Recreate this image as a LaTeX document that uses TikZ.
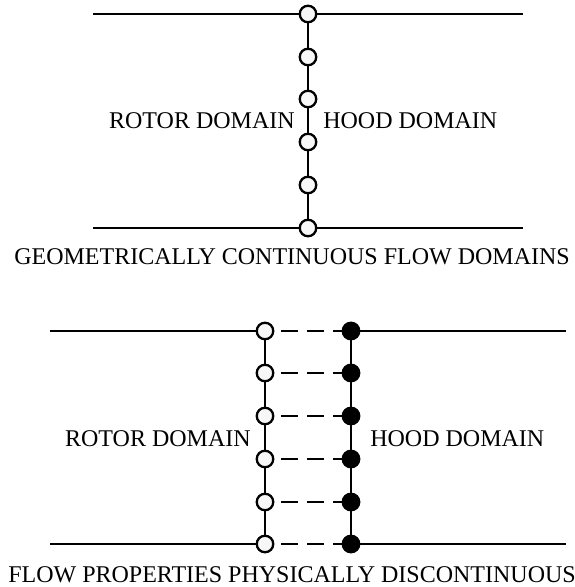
\documentclass[tikz,border=0pt]{standalone}
\usepackage{fontspec}
\setmainfont{Liberation Serif}
\usepackage{tikz}
\usetikzlibrary{positioning}
\tikzset{
  x=1pt, y=-1pt,
  every path/.style={line width=2.6pt},
  open/.style={circle, draw, line width=2.3pt, fill=gray!6, minimum size=16.5pt, inner sep=0pt},
  full/.style={circle, draw, line width=2.3pt, fill=black, minimum size=16.5pt, inner sep=0pt},
  gap/.style={dash pattern=on 17pt off 9pt, dash phase=-7pt},
  lbl/.style={inner sep=0pt, font=\fontsize{24}{28}\selectfont},
}

\begin{document}
\begin{tikzpicture}
      \useasboundingbox (0,0) rectangle (574,587);

      % continuous interface
      \coordinate (tl) at (93,14);  \coordinate (tr) at (523,14);
      \coordinate (bl) at (93,228); \coordinate (br) at (523,228);
      \node[open] (a1) at (308,14)  {};
      \node[open] (a2) at (308,57)  {};
      \node[open] (a3) at (308,99)  {};
      \node[open] (a4) at (308,142) {};
      \node[open] (a5) at (308,185) {};
      \node[open] (a6) at (308,228) {};

      \draw (tl) -- (a1) -- (tr)
            (bl) -- (a6) -- (br)
            (a1) -- (a2) -- (a3) -- (a4) -- (a5) -- (a6);

      \node[lbl, anchor=base east] (rotA) at (296,128) {ROTOR DOMAIN};
      \node[lbl, anchor=base west] (hoodA) at (322,128) {HOOD DOMAIN};
      \node[lbl, anchor=base west] (capA) at (13,264) {GEOMETRICALLY CONTINUOUS FLOW DOMAINS};

      % discontinuous interface
      \coordinate (l1) at (50,331);  \coordinate (r1) at (566,331);
      \coordinate (l2) at (50,544);  \coordinate (r2) at (566,544);
      \node[open] (o1) at (265,331) {};
      \node[open] (o2) at (265,373) {};
      \node[open] (o3) at (265,416) {};
      \node[open] (o4) at (265,459) {};
      \node[open] (o5) at (265,502) {};
      \node[open] (o6) at (265,544) {};
      \node[full] (f1) at (351,331) {};
      \node[full] (f2) at (351,373) {};
      \node[full] (f3) at (351,416) {};
      \node[full] (f4) at (351,459) {};
      \node[full] (f5) at (351,502) {};
      \node[full] (f6) at (351,544) {};

      \draw (l1) -- (o1)  (f1) -- (r1)
            (l2) -- (o6)  (f6) -- (r2)
            (o1) -- (o2) -- (o3) -- (o4) -- (o5) -- (o6)
            (f1) -- (f2) -- (f3) -- (f4) -- (f5) -- (f6);
      \draw[gap] (o1) -- (f1)  (o2) -- (f2)  (o3) -- (f3)
                 (o4) -- (f4)  (o5) -- (f5)  (o6) -- (f6);

      \node[lbl, anchor=base east] (rotB) at (252,446) {ROTOR DOMAIN};
      \node[lbl, anchor=base west] (hoodB) at (369,446) {HOOD DOMAIN};
      \node[lbl, anchor=base west] (capB) at (7,582) {FLOW PROPERTIES PHYSICALLY DISCONTINUOUS};
    \end{tikzpicture}
\end{document}
